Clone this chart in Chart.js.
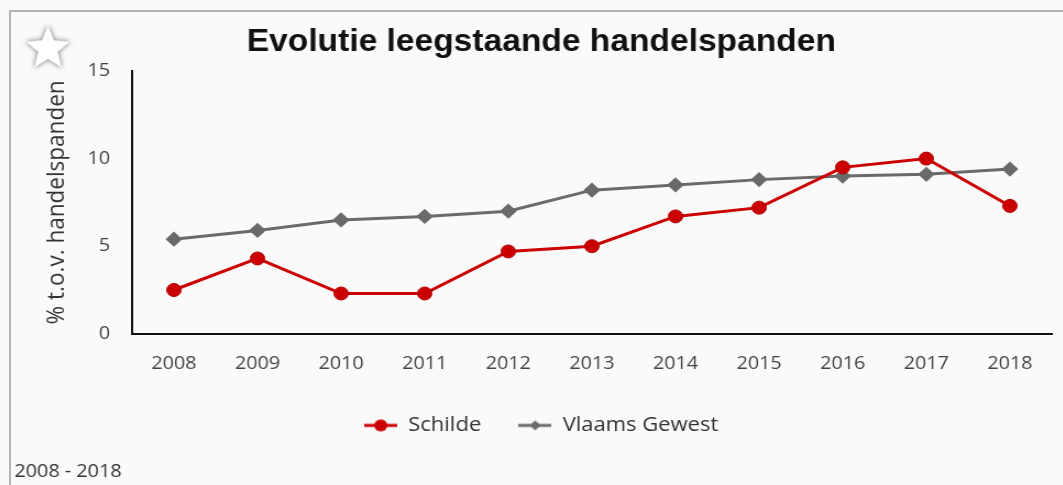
<!DOCTYPE html>
<html>
<head>
<meta charset="utf-8">
<script src="https://cdn.jsdelivr.net/npm/chart.js@4/dist/chart.umd.min.js"></script>
<style>
  html, body { margin: 0; padding: 0; background: #fafafa; overflow: hidden; }
  body { width: 1063px; height: 485px; position: relative; }
  .frame {
    position: absolute; left: 9px; top: 10px; width: 1100px; height: 520px;
    border-left: 2px solid #b4b4b4; border-top: 2px solid #b4b4b4;
  }
  .wrap {
    position: absolute; left: 10px; top: 0; width: 966px; height: 485px;
    transform: scaleX(1.1); transform-origin: 0 0;
  }
  .star { position: absolute; left: 22px; top: 22px; width: 52px; height: 52px; }
</style>
</head>
<body>
<div class="frame"></div>
<div class="wrap"><canvas id="trend"></canvas></div>
<svg class="star" viewBox="0 0 52 52">
  <defs>
    <filter id="glow" x="-30%" y="-30%" width="160%" height="160%">
      <feDropShadow dx="0" dy="0" stdDeviation="2.6" flood-color="#6e6e6e" flood-opacity="1"/>
    </filter>
  </defs>
  <polygon filter="url(#glow)" fill="#ffffff" stroke="#e6e6e6" stroke-width="0.6"
    points="26,4 32,18.6 47.5,19.8 35.6,29.8 39.4,45 26,36.8 12.6,45 16.4,29.8 4.5,19.8 20,18.6"/>
</svg>
<script>
const years = ["2008", "2009", "2010", "2011", "2012", "2013", "2014", "2015", "2016", "2017", "2018"];
const schilde = [2.5, 4.3, 2.3, 2.3, 4.7, 5.0, 6.7, 7.2, 9.5, 10.0, 7.3];
const vlaamsGewest = [5.4, 5.9, 6.5, 6.7, 7.0, 8.2, 8.5, 8.8, 9.0, 9.1, 9.4];
const yTicks = [0, 5, 10, 15];

const RED = "#cc0000";
const GREY = "#6a6a6a";

// small line + marker swatch used as legend symbol
function swatch(color, shape) {
  const c = document.createElement("canvas");
  c.width = 30;
  c.height = 16;
  const ctx = c.getContext("2d");
  ctx.strokeStyle = color;
  ctx.fillStyle = color;
  ctx.lineWidth = 3;
  ctx.beginPath();
  ctx.moveTo(0, 8);
  ctx.lineTo(30, 8);
  ctx.stroke();
  ctx.beginPath();
  if (shape === "circle") {
    ctx.arc(15, 8, 6, 0, Math.PI * 2);
  } else {
    ctx.moveTo(15, 3);
    ctx.lineTo(20, 8);
    ctx.lineTo(15, 13);
    ctx.lineTo(10, 8);
    ctx.closePath();
  }
  ctx.fill();
  return c;
}

const legendIcons = [swatch(RED, "circle"), swatch(GREY, "diamond")];

new Chart(document.getElementById("trend").getContext("2d"), {
  type: "line",
  data: {
    labels: years,
    datasets: [
      {
        label: "Schilde",
        data: schilde,
        borderColor: RED,
        backgroundColor: RED,
        pointBorderColor: "#b00000",
        borderWidth: 3,
        pointRadius: 6.5,
        pointBorderWidth: 1,
        pointStyle: "circle",
        tension: 0,
      },
      {
        label: "Vlaams Gewest",
        data: vlaamsGewest,
        borderColor: GREY,
        backgroundColor: GREY,
        borderWidth: 3,
        pointRadius: 5.5,
        pointStyle: "rectRot",
        tension: 0,
      },
    ],
  },
  options: {
    responsive: true,
    maintainAspectRatio: false,
    animation: false,
    layout: { padding: { left: 4, right: 4, top: 0, bottom: 0 } },
    scales: {
      x: {
        offset: true,
        grid: { display: false, drawTicks: false },
        border: { display: true, color: "#111", width: 2 },
        ticks: {
          color: "#444",
          padding: 19,
          font: { family: "Open Sans", size: 18 },
          maxRotation: 0,
        },
        afterFit: (scale) => {
          scale.height -= 12;
        },
      },
      y: {
        min: 0,
        max: 15,
        grid: { display: false, drawTicks: false },
        border: { display: true, color: "#111", width: 2 },
        afterBuildTicks: (scale) => {
          scale.ticks = yTicks.map((v) => ({ value: v }));
        },
        afterFit: (scale) => {
          scale.width = 107;
        },
        ticks: {
          color: "#444",
          padding: 20,
          font: { family: "Open Sans", size: 18 },
        },
        title: {
          display: true,
          text: "% t.o.v. handelspanden",
          color: "#333",
          font: { family: "Open Sans", size: 22.5 },
          padding: { top: 25, bottom: 14.4 },
        },
      },
      // empty right-hand spacer so the plot stops short of the frame edge
      spacer: {
        position: "right",
        display: true,
        grid: { display: false, drawTicks: false },
        border: { display: false },
        ticks: { display: false },
        afterFit: (scale) => {
          scale.width = 15;
        },
      },
    },
    plugins: {
      title: {
        display: true,
        text: "Evolutie leegstaande handelspanden",
        color: "#111",
        font: { family: "Liberation Sans", size: 30.5, weight: "bold" },
        padding: { top: 24, bottom: 10.4 },
      },
      subtitle: {
        display: true,
        position: "bottom",
        align: "start",
        text: "2008 - 2018",
        color: "#333",
        font: { family: "Open Sans", size: 18 },
        padding: { top: 16, bottom: 2 },
      },
      legend: {
        position: "bottom",
        labels: {
          usePointStyle: true,
          pointStyleWidth: 30,
          padding: 34,
          color: "#333",
          font: { family: "Open Sans", size: 20 },
          generateLabels: (chart) =>
            Chart.defaults.plugins.legend.labels
              .generateLabels(chart)
              .map((item, i) => ({ ...item, pointStyle: legendIcons[i] })),
        },
      },
      tooltip: { enabled: false },
    },
  },
});
</script>
</body>
</html>
